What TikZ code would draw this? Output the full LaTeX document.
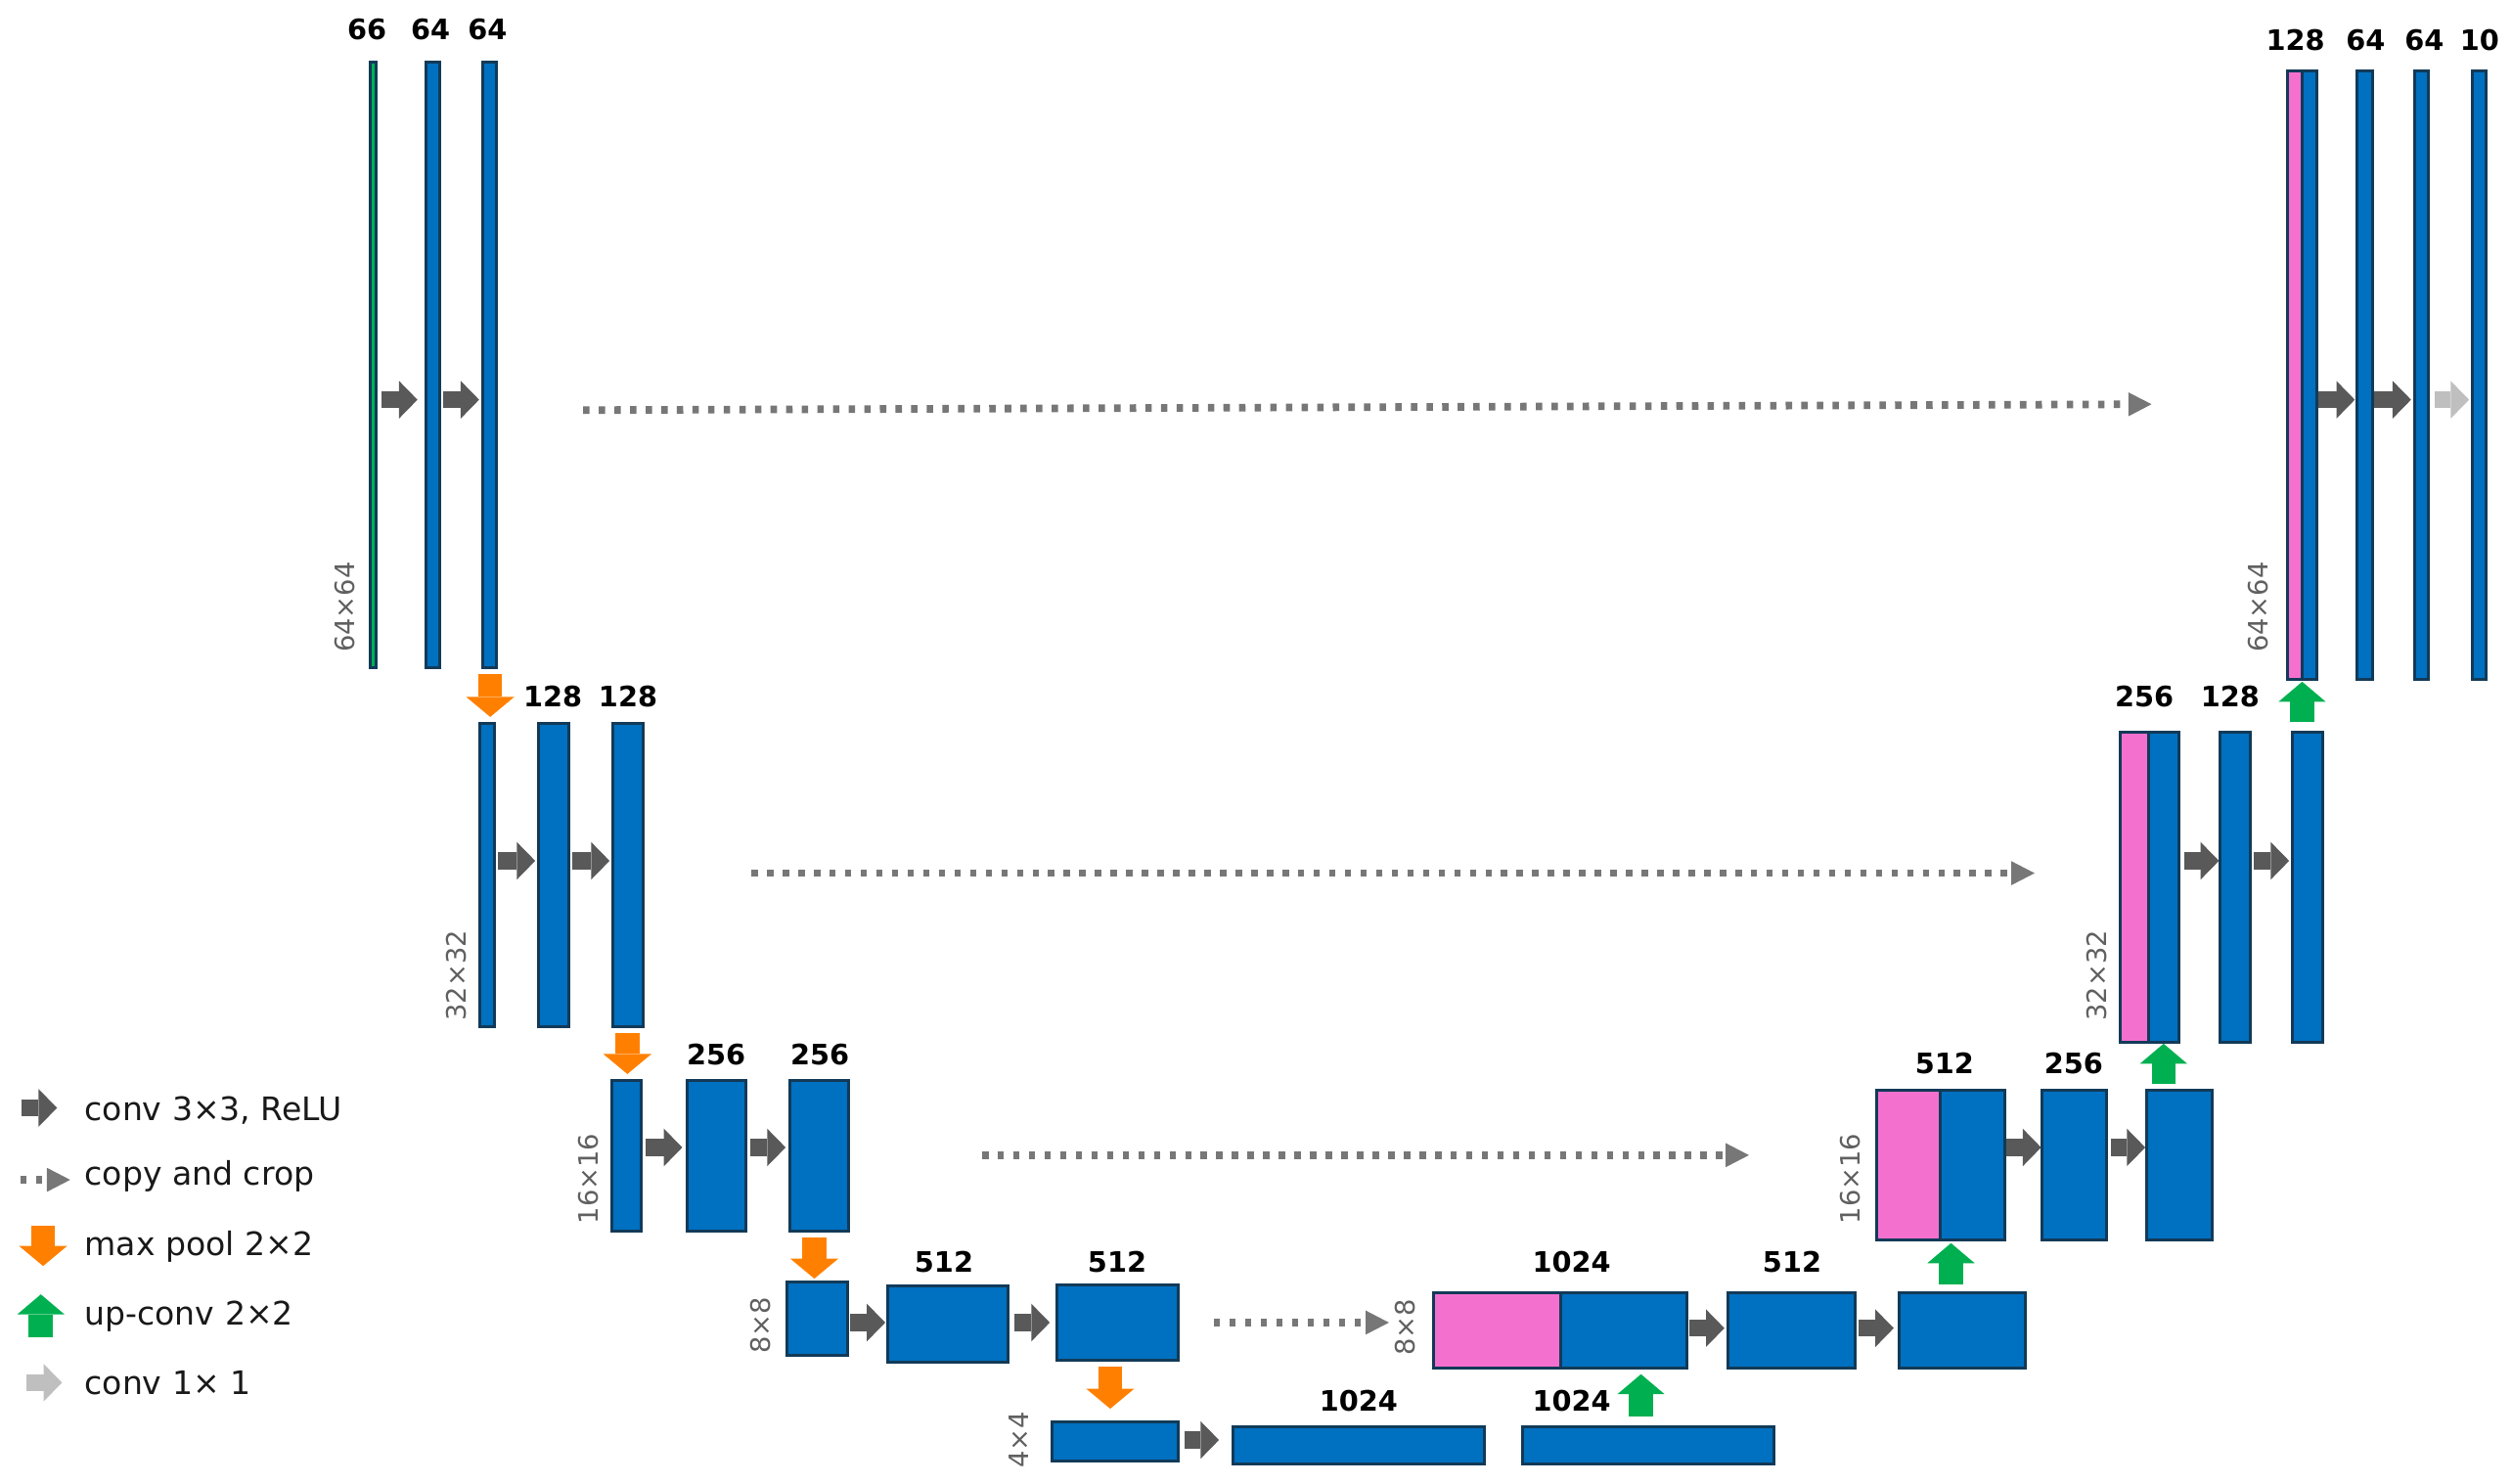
\documentclass[tikz,border=0pt]{standalone}
\usepackage{fontspec}
\setmainfont{DejaVu Sans}
\usetikzlibrary{arrows.meta}

\definecolor{fmblue}{HTML}{0070C0}
\definecolor{fmedge}{HTML}{123A58}
\definecolor{catpink}{HTML}{F470CF}
\definecolor{upgreen}{HTML}{00B050}
\definecolor{poolorange}{HTML}{FF8000}
\definecolor{convgray}{HTML}{595959}
\definecolor{copygray}{HTML}{777777}
\definecolor{onegray}{HTML}{BFBFBF}
\definecolor{dimtext}{HTML}{606060}

\tikzset{
  fm/.style 2 args={minimum width=#1*0.02cm-1pt, minimum height=#2*0.02cm-1pt},
  fmap/.style={draw=fmedge, fill=fmblue, line width=1pt, inner sep=0pt, outer sep=0pt},
  catbar/.style={fmap, fill=catpink},
  inbar/.style={fmap, fill=upgreen},
  num/.style={font=\bfseries\fontsize{10}{11}\selectfont, inner sep=0pt},
  dimlbl/.style={font=\fontsize{9.5}{10}\selectfont, text=dimtext, rotate=90, inner sep=0pt},
  lgd/.style={font=\fontsize{11.5}{13}\selectfont, text=black!90, anchor=base west, inner sep=0pt},
  conv/.style={draw=convgray, line width=0.21cm,
    -{Triangle[width=0.47cm, length=0.23cm, line width=0pt]},
    shorten <=0.04cm, shorten >=0.04cm},
  fconv/.style={conv, draw=onegray},
  pool/.style={draw=poolorange, line width=0.3cm,
    -{Triangle[width=0.6cm, length=0.25cm, line width=0pt]},
    shorten <=0.08cm, shorten >=0.08cm},
  upconv/.style={draw=upgreen, line width=0.3cm,
    -{Triangle[width=0.59cm, length=0.25cm, line width=0pt]},
    shorten <=0.1cm, shorten >=0.04cm},
  copyarr/.style={draw=copygray, line width=0.095cm, dash pattern=on 0.08cm off 0.115cm,
    -{Triangle[width=0.3cm, length=0.29cm, line width=0pt]}}
}

\begin{document}
\begin{tikzpicture}[x=0.02cm, y=-0.02cm]
\useasboundingbox (0,0) rectangle (1568,926);

% contracting path
\node[inbar, fm={5.3}{379.7}] (in) at (233.05,227.85) {};
\node[fmap, fm={10.2}{379.7}] (e1a) at (270.1,227.85) {};
\node[fmap, fm={10.8}{379.7}] (e1b) at (305.6,227.85) {};
\node[fmap, fm={11}{191.1}] (e2a) at (304.1,546.15) {};
\node[fmap, fm={20.8}{191.1}] (e2b) at (345.6,546.15) {};
\node[fmap, fm={20.8}{191.1}] (e2c) at (392,546.15) {};
\node[fmap, fm={20}{95.8}] (e3a) at (391,721.4) {};
\node[fmap, fm={38.5}{95.8}] (e3b) at (447.25,721.4) {};
\node[fmap, fm={38.6}{95.8}] (e3c) at (511.3,721.4) {};
\node[fmap, fm={39.7}{47.7}] (e4a) at (510.15,823.05) {};
\node[fmap, fm={76.9}{49.4}] (e4b) at (591.65,826.4) {};
\node[fmap, fm={77.6}{48.8}] (e4c) at (697.6,825.5) {};
\node[fmap, fm={80.6}{26.2}] (e5a) at (696.1,899.7) {};
\node[fmap, fm={158.8}{25}] (e5b) at (848.1,902.1) {};
\node[fmap, fm={158.8}{25}] (e5c) at (1028.8,902.1) {};

% expansive path
\node[catbar, fm={81.3}{49}] (d4p) at (934.65,830.5) {};
\node[fmap, fm={80.3}{49}, anchor=west] (d4b) at (d4p.east) {};
\node[fmap, fm={81.5}{49}] (d4c) at (1118.25,830.5) {};
\node[fmap, fm={80.5}{49}] (d4d) at (1224.75,830.5) {};
\node[catbar, fm={41.3}{95.2}] (d3p) at (1191.15,727.2) {};
\node[fmap, fm={42.1}{95.2}, anchor=west] (d3b) at (d3p.east) {};
\node[fmap, fm={42.1}{95.2}] (d3c) at (1294.75,727.2) {};
\node[fmap, fm={42.8}{95.2}] (d3d) at (1360.4,727.2) {};
\node[catbar, fm={19.7}{195.5}] (d2p) at (1332.35,553.75) {};
\node[fmap, fm={20.4}{195.5}, anchor=west] (d2b) at (d2p.east) {};
\node[fmap, fm={20.5}{195.5}] (d2c) at (1395.25,553.75) {};
\node[fmap, fm={20.7}{195.5}] (d2d) at (1440.35,553.75) {};
\node[catbar, fm={10.6}{381.2}] (d1p) at (1432.4,234.1) {};
\node[fmap, fm={10.9}{381.2}, anchor=west] (d1b) at (d1p.east) {};
\node[fmap, fm={11.2}{381.2}] (d1c) at (1476.1,234.1) {};
\node[fmap, fm={10.7}{381.2}] (d1d) at (1511.45,234.1) {};
\node[fmap, fm={10.6}{381.2}] (fin) at (1547.6,234.1) {};

% channel numbers
\node[num] (n1a) at (229,18.2) {66};
\node[num] (n1b) at (268.7,18.2) {64};
\node[num] (n1c) at (304.3,18.2) {64};
\node[num] (n2b) at (345,434.7) {128};
\node[num] (n2c) at (392,434.7) {128};
\node[num] (n3b) at (447,658.2) {256};
\node[num] (n3c) at (511.7,658.2) {256};
\node[num] (n4b) at (589.2,787.6) {512};
\node[num] (n4c) at (697.3,787.6) {512};
\node[num] (n5b) at (848,874.3) {1024};
\node[num] (n5c) at (981,874.3) {1024};
\node[num] (m4a) at (981,787.6) {1024};
\node[num] (m4c) at (1118.6,787.6) {512};
\node[num] (m3a) at (1213.8,663.6) {512};
\node[num] (m3c) at (1294.4,663.6) {256};
\node[num] (m2a) at (1338.5,434.7) {256};
\node[num] (m2c) at (1392,434.7) {128};
\node[num] (m1a) at (1432.8,25.2) {128};
\node[num] (m1c) at (1476.6,25.2) {64};
\node[num] (m1d) at (1513.2,25.2) {64};
\node[num] (m1e) at (1547.8,25.2) {10};

% map sizes
\node[dimlbl] (s1) at (215,379) {64×64};
\node[dimlbl] (s2) at (285,609) {32×32};
\node[dimlbl] (s3) at (367.6,735.8) {16×16};
\node[dimlbl] (s4) at (475,827.3) {8×8};
\node[dimlbl] (s5) at (636.2,898.8) {4×4};
\node[dimlbl] (r4) at (877.4,828.5) {8×8};
\node[dimlbl] (r3) at (1155,735.8) {16×16};
\node[dimlbl] (r2) at (1309,609) {32×32};
\node[dimlbl] (r1) at (1409.3,379) {64×64};

% conv 3x3
\draw[conv, shorten <=0.072cm, shorten >=0.106cm] (in.east |- 0,249.5) -- (e1a.west |- 0,249.5);
\draw[conv] (e1a.east |- 0,249.5) -- (e1b.west |- 0,249.5);
\draw[conv] (e2a.east |- 0,537.3) -- (e2b.west |- 0,537.3);
\draw[conv] (e2b.east |- 0,537.3) -- (e2c.west |- 0,537.3);
\draw[conv, shorten <=0.06cm, shorten >=0.06cm] (e3a.east |- 0,716.2) -- (e3b.west |- 0,716.2);
\draw[conv, shorten <=0.06cm, shorten >=0.05cm] (e3b.east |- 0,716.2) -- (e3c.west |- 0,716.2);
\draw[conv, shorten <=0.03cm, shorten >=0.03cm] (e4a.east |- 0,825.5) -- (e4b.west |- 0,825.5);
\draw[conv, shorten <=0.078cm, shorten >=0.088cm] (e4b.east |- 0,825.5) -- (e4c.west |- 0,825.5);
\draw[conv, shorten <=0.076cm, shorten >=0.174cm] (e5a.east |- 0,898.8) -- (e5b.west |- 0,898.8);
\draw[conv, shorten <=0.03cm] (d4b.east |- 0,829) -- (d4c.west |- 0,829);
\draw[conv, shorten >=0.066cm] (d4c.east |- 0,829) -- (d4d.west |- 0,829);
\draw[conv, shorten <=0.02cm, shorten >=0.01cm] (d3b.east |- 0,716.2) -- (d3c.west |- 0,716.2);
\draw[conv, shorten <=0.05cm, shorten >=0.016cm] (d3c.east |- 0,716.2) -- (d3d.west |- 0,716.2);
\draw[conv, shorten <=0.064cm, shorten >=0.016cm] (d2b.east |- 0,537.3) -- (d2c.west |- 0,537.3);
\draw[conv] (d2c.east |- 0,537.3) -- (d2d.west |- 0,537.3);
\draw[conv, shorten <=0.026cm, shorten >=0.03cm] (d1b.east |- 0,249.5) -- (d1c.west |- 0,249.5);
\draw[conv, shorten <=0.016cm] (d1c.east |- 0,249.5) -- (d1d.west |- 0,249.5);
\draw[fconv, shorten <=0.08cm] (d1d.east |- 0,249.5) -- (fin.west |- 0,249.5);

% max pool
\draw[pool] (306,0 |- e1b.south) -- (306,0 |- e2a.north);
\draw[pool] (391.6,0 |- e2c.south) -- (391.6,0 |- e3a.north);
\draw[pool, shorten >=0.04cm] (508.3,0 |- e3c.south) -- (508.3,0 |- e4a.north);
\draw[pool, shorten >=0.164cm] (693,0 |- e4c.south) -- (693,0 |- e5a.north);

% up-conv
\draw[upconv, shorten <=0.128cm, shorten >=0.072cm] (1024.3,0 |- e5c.north) -- (1024.3,0 |- d4b.south);
\draw[upconv] (1217.8,0 |- d4d.north) -- (1217.8,0 |- d3b.south);
\draw[upconv, shorten <=0.078cm, shorten >=0.016cm] (1350.5,0 |- d3d.north) -- (1350.5,0 |- d2b.south);
\draw[upconv, shorten <=0.124cm, shorten >=0.034cm] (1437,0 |- d2d.north) -- (1437,0 |- d1b.south);

% copy and crop
\coordinate (c1s) at (364,256);
\coordinate (c1e) at (1343,252.3);
\coordinate (c2s) at (469,545);
\coordinate (c2e) at (1270,545);
\coordinate (c3s) at (613,721);
\coordinate (c3e) at (1091.7,721);
\coordinate (c4s) at (757.7,825.5);
\coordinate (c4e) at (867,825.5);
\draw[copyarr] (c1s) -- (c1e);
\draw[copyarr] (c2s) -- (c2e);
\draw[copyarr] (c3s) -- (c3e);
\draw[copyarr] (c4s) -- (c4e);

% legend
\coordinate (k1) at (13.2,691.5);
\coordinate (k2) at (12.6,736.4);
\coordinate (k3) at (26.9,765.2);
\coordinate (k4) at (25.5,834.5);
\coordinate (k5) at (16.3,863);
\draw[conv, shorten <=0pt, shorten >=0pt] (k1) -- ++(22.4,0);
\draw[copyarr] (k2) -- ++(31.2,0);
\draw[pool, shorten <=0pt, shorten >=0pt] (k3) -- ++(0,25);
\draw[upconv, shorten <=0pt, shorten >=0pt] (k4) -- ++(0,-26.6);
\draw[fconv, shorten <=0pt, shorten >=0pt] (k5) -- ++(22.4,0);
\node[lgd] (g1) at (52.5,699.5) {conv 3×3, ReLU};
\node[lgd] (g2) at (52.5,739.8) {copy and crop};
\node[lgd] (g3) at (52.5,783.6) {max pool 2×2};
\node[lgd] (g4) at (52.5,827.3) {up-conv 2×2};
\node[lgd] (g5) at (52.5,870.1) {conv 1× 1};
\end{tikzpicture}
\end{document}
